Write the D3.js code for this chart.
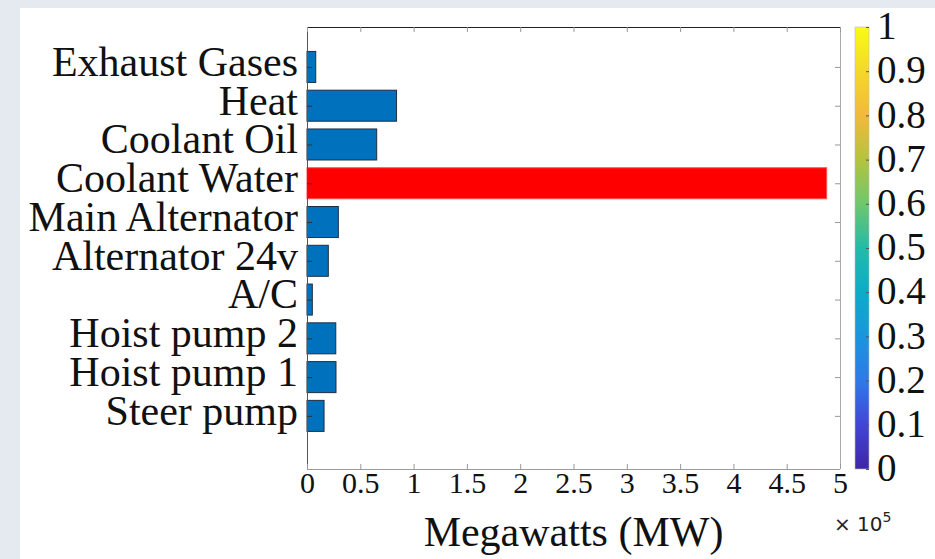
<!DOCTYPE html>
<html>
<head>
<meta charset="utf-8">
<script src="https://cdn.jsdelivr.net/npm/d3@7"></script>
<style>
  html, body { margin: 0; padding: 0; background: #e5e9f0; }
  svg { display: block; }
</style>
</head>
<body>
<svg id="chart" width="935" height="559"></svg>
<script>
// Power consumers, listed top to bottom
const categories = [
  "Exhaust Gases", "Heat", "Coolant Oil", "Coolant Water", "Main Alternator",
  "Alternator 24v", "A/C", "Hoist pump 2", "Hoist pump 1", "Steer pump"
];
// Power per consumer, MW
const values = [8200, 84000, 65400, 487500, 29400, 20000, 5000, 27000, 27200, 16000];
// The consumer drawn in red
const highlighted = ["Coolant Water"];
// X tick values (MW) and their labels in units of 10^5
const xTicks = [0, 50000, 100000, 150000, 200000, 250000, 300000, 350000, 400000, 450000, 500000];
const xTickLabels = ["0", "0.5", "1", "1.5", "2", "2.5", "3", "3.5", "4", "4.5", "5"];
// Colorbar ticks
const cbTicks = [0, 0.1, 0.2, 0.3, 0.4, 0.5, 0.6, 0.7, 0.8, 0.9, 1];
const cbTickLabels = ["0", "0.1", "0.2", "0.3", "0.4", "0.5", "0.6", "0.7", "0.8", "0.9", "1"];
// Parula colormap stops, 0 → 1
const parula = ["#3e26a8", "#4245d6", "#2e7ae8", "#1a95e0", "#0cacc8", "#22bba8",
                "#6ec76e", "#b4c43c", "#f2b93c", "#f4d82a", "#f9fb15"];

const svg = d3.select("#chart");
const serif = "'Liberation Serif', 'Times New Roman', serif";

// page panel
svg.append("rect").attr("x", 0).attr("y", 0).attr("width", 935).attr("height", 559).attr("fill", "#e5e9f0");
svg.append("rect").attr("x", 20).attr("y", 8).attr("width", 915).attr("height", 551).attr("fill", "#ffffff");

const plot = { left: 307, right: 840, top: 27, bottom: 469 };

const x = d3.scaleLinear().domain([0, 500000]).range([plot.left, plot.right]);
// category i (top = highest position) sits at position n - i
const n = categories.length;
const y = d3.scaleLinear().domain([-0.37, 11.03]).range([plot.bottom, plot.top]);
const pos = (i) => n - i;
const barH = y(0) - y(0.8);

// bars
svg.append("g").selectAll("rect")
  .data(categories)
  .join("rect")
  .attr("x", x(0))
  .attr("y", (d, i) => y(pos(i)) - barH / 2)
  .attr("width", (d, i) => x(values[i]) - x(0))
  .attr("height", barH)
  .attr("fill", d => highlighted.includes(d) ? "#ff0000" : "#0072bd")
  .attr("stroke", d => highlighted.includes(d) ? "#ff5050" : "#1d2f44")
  .attr("stroke-width", 1);

// frame
const frame = svg.append("g").attr("fill", "none").attr("stroke-width", 1);
frame.append("line").attr("x1", plot.left).attr("x2", plot.right).attr("y1", plot.top + 0.5).attr("y2", plot.top + 0.5).attr("stroke", "#222");
frame.append("line").attr("x1", plot.left).attr("x2", plot.right).attr("y1", plot.bottom + 0.5).attr("y2", plot.bottom + 0.5).attr("stroke", "#999");
frame.append("line").attr("x1", plot.left + 0.5).attr("x2", plot.left + 0.5).attr("y1", plot.top).attr("y2", plot.bottom).attr("stroke", "#555");
frame.append("line").attr("x1", plot.right + 0.5).attr("x2", plot.right + 0.5).attr("y1", plot.top).attr("y2", plot.bottom).attr("stroke", "#aaa");

// x axis (ticks pointing inward)
const xAxis = svg.append("g")
  .attr("transform", `translate(0,${plot.bottom})`)
  .call(d3.axisBottom(x).tickValues(xTicks).tickSizeInner(-5).tickSizeOuter(0)
    .tickFormat((d, i) => xTickLabels[i]).tickPadding(3));
xAxis.select(".domain").remove();
xAxis.selectAll(".tick line").attr("stroke", "#999");
xAxis.selectAll(".tick text").attr("font-family", serif).attr("font-size", 30).attr("fill", "#111");

const xTop = svg.append("g")
  .attr("transform", `translate(0,${plot.top})`)
  .call(d3.axisTop(x).tickValues(xTicks).tickSizeInner(-5).tickSizeOuter(0).tickFormat(""));
xTop.select(".domain").remove();
xTop.selectAll(".tick line").attr("stroke", "#999");

// y axis labels and inward ticks
const yAxis = svg.append("g")
  .attr("transform", `translate(${plot.left},0)`)
  .call(d3.axisLeft(y).tickValues(categories.map((d, i) => pos(i)))
    .tickSizeInner(-5).tickSizeOuter(0)
    .tickFormat(v => categories[n - v]).tickPadding(9));
yAxis.select(".domain").remove();
yAxis.selectAll(".tick line").attr("stroke", "#333");
yAxis.selectAll(".tick text").attr("font-family", serif).attr("font-size", 42).attr("fill", "#111").attr("dy", "0.2em");

const yRight = svg.append("g")
  .attr("transform", `translate(${plot.right},0)`)
  .call(d3.axisRight(y).tickValues(categories.map((d, i) => pos(i)))
    .tickSizeInner(-5).tickSizeOuter(0).tickFormat(""));
yRight.select(".domain").remove();
yRight.selectAll(".tick line").attr("stroke", "#999");

// x axis title and exponent
svg.append("text")
  .attr("x", (plot.left + plot.right) / 2).attr("y", 546)
  .attr("text-anchor", "middle")
  .attr("font-family", serif).attr("font-size", 42).attr("fill", "#111")
  .text("Megawatts (MW)");

const expo = svg.append("text")
  .attr("x", 834).attr("y", 531)
  .attr("font-family", "'DejaVu Sans', sans-serif").attr("font-size", 20).attr("fill", "#222");
expo.append("tspan").text("× 10");
expo.append("tspan").attr("dy", -9).attr("font-size", 14).text("5");

// colorbar
const cb = { left: 855, width: 14, top: 27, bottom: 469 };
const c = d3.scaleLinear().domain([0, 1]).range([cb.bottom, cb.top]);
const grad = svg.append("defs").append("linearGradient")
  .attr("id", "parula").attr("x1", 0).attr("y1", 1).attr("x2", 0).attr("y2", 0);
grad.selectAll("stop").data(parula).join("stop")
  .attr("offset", (d, i) => i / (parula.length - 1))
  .attr("stop-color", d => d);
svg.append("rect")
  .attr("x", cb.left).attr("y", c(1)).attr("width", cb.width).attr("height", c(0) - c(1))
  .attr("fill", "url(#parula)").attr("stroke", "#bbb").attr("stroke-width", 0.6);

const cAxis = svg.append("g")
  .attr("transform", `translate(${cb.left + cb.width},0)`)
  .call(d3.axisRight(c).tickValues(cbTicks).tickSizeInner(-3).tickSizeOuter(0)
    .tickFormat((d, i) => cbTickLabels[i]).tickPadding(8));
cAxis.select(".domain").remove();
cAxis.selectAll(".tick line").attr("stroke", "#555");
cAxis.selectAll(".tick text").attr("font-family", serif).attr("font-size", 39).attr("fill", "#111").attr("dy", "0.3em");
</script>
</body>
</html>
